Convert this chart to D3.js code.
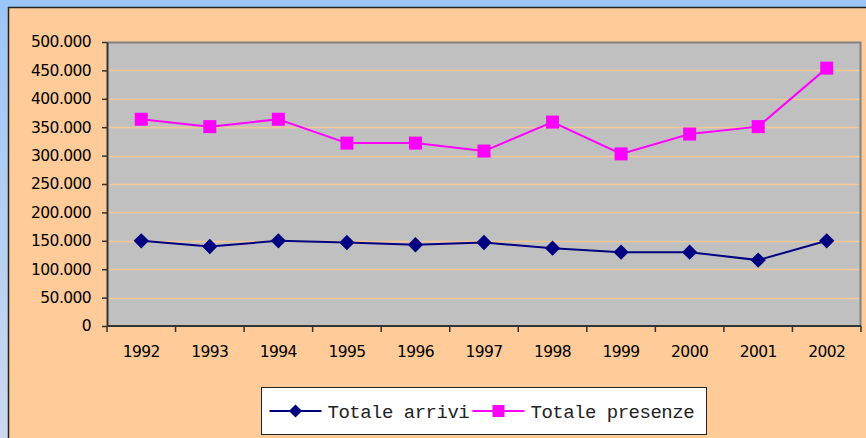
<!DOCTYPE html>
<html>
<head>
<meta charset="utf-8">
<script src="https://cdn.jsdelivr.net/npm/d3@7"></script>
<style>
  html, body { margin: 0; padding: 0; background: #fff; }
  svg { display: block; }
  .tick text { font-family: "Century Gothic", "DejaVu Sans", sans-serif; fill: #000; }
</style>
</head>
<body>
<svg id="chart"></svg>
<script>
// Data
const years = ['1992','1993','1994','1995','1996','1997','1998','1999','2000','2001','2002'];
const arrivi = [150000, 140000, 150000, 147000, 143000, 147000, 137000, 130000, 130000, 116000, 150000];
const presenze = [364000, 351000, 364000, 322000, 322000, 308000, 359000, 303000, 338000, 351000, 454000];
const yTicks = [0, 50000, 100000, 150000, 200000, 250000, 300000, 350000, 400000, 450000, 500000];
const seriesNames = ['Totale arrivi', 'Totale presenze'];

const W = 866, H = 438;
const margin = {top: 42, right: 5, bottom: 112, left: 107};
const width = W - margin.left - margin.right;
const height = H - margin.top - margin.bottom;

const svg = d3.select('#chart').attr('width', W).attr('height', H);

// blue window background
const defs = svg.append('defs');
const grad = defs.append('linearGradient').attr('id', 'bg').attr('x1', 0).attr('y1', 0).attr('x2', 0).attr('y2', 1);
grad.append('stop').attr('offset', '0%').attr('stop-color', '#9cc6f8');
grad.append('stop').attr('offset', '100%').attr('stop-color', '#cbd9ee');
svg.append('rect').attr('width', W).attr('height', H).attr('fill', 'url(#bg)');

// chart area
svg.append('rect').attr('x', 8.5).attr('y', 7.5).attr('width', W).attr('height', H)
    .attr('fill', '#ffcc99').attr('stroke', '#222').attr('stroke-width', 1.5);

const chart = svg.append('g').attr('transform', `translate(${margin.left},${margin.top})`);

const x = d3.scaleBand().domain(years).range([0, width]);
const y = d3.scaleLinear().domain([0, 500000]).range([height, 0]);

chart.append('rect').attr('width', width).attr('height', height).attr('fill', '#c0c0c0');

// gridlines
chart.selectAll('.grid').data(yTicks.filter(d => d > 0 && d < 500000)).join('line')
    .attr('class', 'grid')
    .attr('x1', 0).attr('x2', width)
    .attr('y1', d => Math.round(y(d)) + 0.5).attr('y2', d => Math.round(y(d)) + 0.5)
    .attr('stroke', '#f8c898').attr('stroke-width', 1.5);

// plot border (top/right grey)
chart.append('path')
    .attr('d', `M0,0.5H${width - 0.5}V${height}`)
    .attr('fill', 'none').attr('stroke', '#808080').attr('stroke-width', 2);

const fmt = d => d === 0 ? '0' : d3.format(',')(d).replace(/,/g, '.');

const yAxis = d3.axisLeft(y).tickValues(yTicks).tickFormat(fmt).tickSize(5).tickSizeOuter(0).tickPadding(11);
const yAxisG = chart.append('g').call(yAxis);
yAxisG.selectAll('text').attr('font-size', 15.5).attr('letter-spacing', -0.6);

// x axis with ticks at category boundaries
const xAxisG = chart.append('g').attr('transform', `translate(0,${height})`);
xAxisG.append('line').attr('x1', 0).attr('x2', width).attr('stroke', '#333').attr('stroke-width', 2);
const bounds = years.map(d => x(d)).concat([width]);
xAxisG.selectAll('.xt').data(bounds).join('line')
    .attr('x1', d => d).attr('x2', d => d).attr('y1', 0).attr('y2', 6)
    .attr('stroke', '#333').attr('stroke-width', 1.5);
xAxisG.selectAll('.xl').data(years).join('text')
    .attr('x', d => x(d) + x.bandwidth() / 2).attr('y', 31)
    .attr('text-anchor', 'middle')
    .attr('font-family', '"Century Gothic", "DejaVu Sans", sans-serif')
    .attr('font-size', 15.5).attr('letter-spacing', -0.6)
    .text(d => d);
yAxisG.select('.domain').attr('stroke', '#333').attr('stroke-width', 2);
yAxisG.selectAll('.tick line').attr('stroke', '#333').attr('stroke-width', 1.5);

const cx = (d, i) => x(years[i]) + x.bandwidth() / 2;
const line = d3.line().x((d, i) => cx(d, i)).y(d => y(d));

chart.append('path').datum(arrivi).attr('d', line)
    .attr('fill', 'none').attr('stroke', '#000080').attr('stroke-width', 2);
chart.append('path').datum(presenze).attr('d', line)
    .attr('fill', 'none').attr('stroke', '#ff00ff').attr('stroke-width', 2);

const diamond = d3.symbol().type(d3.symbolDiamond2).size(150);
chart.selectAll('.ma').data(arrivi).join('path')
    .attr('d', diamond)
    .attr('transform', (d, i) => `translate(${cx(d, i)},${y(d)})`)
    .attr('fill', '#000080');
chart.selectAll('.mp').data(presenze).join('rect')
    .attr('x', (d, i) => cx(d, i) - 6.5).attr('y', d => y(d) - 6.5)
    .attr('width', 13).attr('height', 13)
    .attr('fill', '#ff00ff');

// legend
const legend = svg.append('g').attr('transform', 'translate(261.5,387.5)');
legend.append('rect').attr('width', 445).attr('height', 47)
    .attr('fill', '#fff').attr('stroke', '#222').attr('stroke-width', 1);
const colors = ['#000080', '#ff00ff'];
const offsets = [8, 211];
seriesNames.forEach((name, i) => {
  const g = legend.append('g').attr('transform', `translate(${offsets[i]},23.5)`);
  g.append('line').attr('x1', 0).attr('x2', 52).attr('stroke', colors[i]).attr('stroke-width', 2);
  if (i === 0) {
    g.append('path').attr('d', d3.symbol().type(d3.symbolDiamond2).size(110)).attr('transform', 'translate(26,0)').attr('fill', colors[i]);
  } else {
    g.append('rect').attr('x', 20).attr('y', -6).attr('width', 12).attr('height', 12).attr('fill', colors[i]);
  }
  g.append('text').attr('x', 58).attr('y', 7)
      .attr('font-family', '"Courier New", "Liberation Mono", monospace')
      .attr('font-size', 19).attr('letter-spacing', -0.5).attr('fill', '#222')
      .text(name);
});
</script>
</body>
</html>
